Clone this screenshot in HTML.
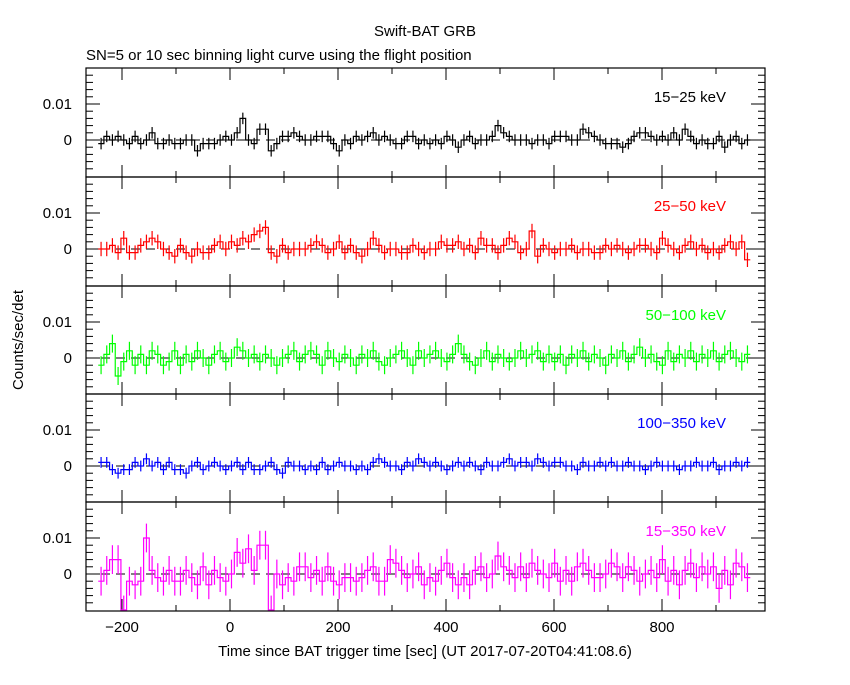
<!DOCTYPE html>
<html><head><meta charset="utf-8"><style>
body{margin:0;background:#fff}
svg text{font-family:"Liberation Sans",sans-serif;font-size:15px}
</style></head><body>
<svg id="c" width="850" height="680" xmlns="http://www.w3.org/2000/svg">
<text x="425" y="36" text-anchor="middle">Swift-BAT GRB</text>
<text x="86" y="60">SN=5 or 10 sec binning light curve using the flight position</text>
<text transform="translate(23,340) rotate(-90)" text-anchor="middle">Counts/sec/det</text>
<text x="425" y="656" text-anchor="middle">Time since BAT trigger time [sec] (UT 2017-07-20T04:41:08.6)</text>
</svg>
<script>
const xTicks=[-200,0,200,400,600,800];
const bandLabels=["15−25 keV","25−50 keV","50−100 keV","100−350 keV","15−350 keV"];
const bandColors=["#000","#f00","#0f0","#00f","#f0f"];
const tStart=-244, binW=10.5;
const s1=[-1,1,0,1,0,-1,1,-1,0,2, -1,-1,0,-1,-1,0,0,-3,-1,-1, -1,0,1,0,2,6,0,-1,3,3, -3,-1,1,1,2,1,0,0,1,1, 1,-1,-3,0,-1,1,0,1,2,0, 1,0,-1,-1,1,1,-1,0,-1,0, -1,1,0,-2,0,1,-1,0,0,1, 4,2,1,0,0,0,-1,0,0,-1, 1,1,1,0,0,3,2,1,0,-1, -1,-1,-2,-1,1,2,2,1,0,1, 0,2,0,3,1,-1,0,-1,-1,1, -2,0,1,-1,0];
const s2=[0,0,1,-1,3,-1,-1,1,2,3, 2,0,-1,-2,1,-1,-2,0,-1,-1, 1,2,0,2,1,3,2,4,5,6, -1,-2,1,-1,0,0,0,1,2,1, -1,0,2,-1,1,-1,-2,0,3,1, -1,0,0,-1,-1,1,0,-1,0,0, 2,1,1,2,0,1,-1,3,1,1, -1,1,3,2,-1,0,5,-2,1,0, -1,0,0,1,-1,0,0,-1,-1,1, 0,1,0,-1,0,1,1,0,-1,3, 1,0,-1,1,2,0,1,-1,0,-1, 1,2,0,2,-3];
const s3=[-2,1,4,-5,-1,2,-2,1,-2,2, 1,-2,-1,2,-2,1,-1,2,0,-2, 1,2,-1,0,3,2,0,1,-1,1, 0,-2,0,1,2,-1,1,2,1,-2, 2,0,-1,1,0,-2,1,0,2,-1, -2,0,1,2,0,-2,2,0,1,2, 0,-1,1,4,1,-1,-2,0,2,-1, 1,0,-1,0,2,0,1,2,-1,1, -1,1,-2,1,0,2,-1,1,0,-2, 1,0,2,-1,1,3,0,1,-1,-2, 2,-1,1,0,2,-1,1,0,2,-1, 1,2,0,-1,1];
const s4=[1,1,-1,-2,-1,-1,1,0,2,0, 1,-1,1,-1,-1,-2,0,1,-1,0, 1,0,-1,0,1,-1,1,-1,-1,0, 1,-1,-2,1,0,0,-1,0,-1,1, -1,0,1,0,0,-1,0,-1,1,2, 1,0,0,-1,1,0,2,1,0,1, 0,-1,0,1,0,1,0,-1,1,0, 0,1,2,0,1,1,0,2,1,0, 1,1,0,0,-1,1,0,0,1,0, 1,0,0,1,0,0,-1,0,1,0, 0,0,-1,0,0,1,0,0,1,-1, 0,0,1,0,1];
const s5=[-2,1,4,4,-10,-2,-3,-2,10,1, -1,-2,1,-2,-2,1,-1,-3,2,-3, 1,-1,-2,0,6,3,7,1,8,8, -10,0,-3,-1,-2,2,2,-1,1,-2, 2,-2,-3,-1,-1,-2,-1,1,2,-2, -2,4,3,1,-1,0,2,-3,-1,-2, 1,3,-1,-3,-1,-3,1,2,-1,0, 5,2,1,-1,2,-1,3,1,0,-1, 3,-2,1,-2,2,3,1,-1,-1,0, 3,2,-1,2,1,-2,0,1,-1,4, -2,1,-3,1,3,-1,2,0,2,-4, 1,-3,3,2,-1];
const series=[s1,s2,s3,s4,s5];
const errs=[1.6,2,2.5,1.5,4];
const svg=document.getElementById('c');const NS="http://www.w3.org/2000/svg";
const X0=86,X1=765;
const xs=t=>230+(t*0.54);
function mk(tag,a,parent){const e=document.createElementNS(NS,tag);for(const k in a)e.setAttribute(k,a[k]);(parent||svg).appendChild(e);return e;}
const tops=[68,177,286,394,502],bottom=611;
for(let p=0;p<5;p++){
  const top=tops[p],bot=(p<4?tops[p+1]:bottom);
  const zeroY=top+72,per=3.6;
  const ys=v=>zeroY-v*per;
  const g=mk('g',{});
  
  
  const clipId='cl'+p;
  const cp=mk('clipPath',{id:clipId},g);mk('rect',{x:X0,y:top,width:X1-X0,height:bot-top},cp);
  for(let v=-8;v<=18;v+=2){const y=ys(v);if(y<top||y>bot)continue;const L=(v%10===0)?14:7;
    mk('line',{x1:X0,y1:y,x2:X0+L,y2:y,stroke:'#000'},g);mk('line',{x1:X1,y1:y,x2:X1-L,y2:y,stroke:'#000'},g);}
  const yl1=mk('text',{x:X0-14,y:ys(10)+5,'text-anchor':'end'},g);yl1.textContent='0.01';
  
  
  const yl0=mk('text',{x:X0-14,y:ys(0)+5,'text-anchor':'end'},g);yl0.textContent='0';
  
  
  for(let t=-200;t<=900;t+=100){const x=xs(t);const L=(t%200===0)?12:6;
    mk('line',{x1:x,y1:top,x2:x,y2:top+L,stroke:'#000'},g);mk('line',{x1:x,y1:bot,x2:x,y2:bot-L,stroke:'#000'},g);}
  mk('line',{x1:X0,y1:zeroY,x2:X1,y2:zeroY,stroke:'#000','stroke-dasharray':'9,6'},g);
  const d=series[p],n=d.length,col=bandColors[p];
  const dg=mk('g',{'clip-path':'url(#'+clipId+')'},g);
  let path='';
  for(let i=0;i<n;i++){const xa=xs(tStart+i*binW),xb=xs(tStart+(i+1)*binW),y=ys(d[i]);
    path+=(i===0?'M':'L')+xa+','+y+'L'+xb+','+y;
    const xm=(xa+xb)/2;
    const eb=mk('line',{x1:xm,y1:ys(d[i]+errs[p]),x2:xm,y2:ys(d[i]-errs[p]),stroke:col,'stroke-width':1.2},dg);
    
    
  }
  const pe=mk('path',{d:path,fill:'none',stroke:col,'stroke-width':1.2},dg);
  
  
  mk('rect',{x:X0,y:top,width:X1-X0,height:bot-top,fill:'none',stroke:'#000','stroke-width':1.2},g);
  const lb=mk('text',{x:726,y:top+34,'text-anchor':'end',fill:col},g);lb.textContent=bandLabels[p];
  
  
}
for(const t of xTicks){const tx=mk('text',{x:xs(t),y:632,'text-anchor':'middle'});tx.textContent=t===-200?'−200':String(t);
  
  }
</script>
</body></html>
